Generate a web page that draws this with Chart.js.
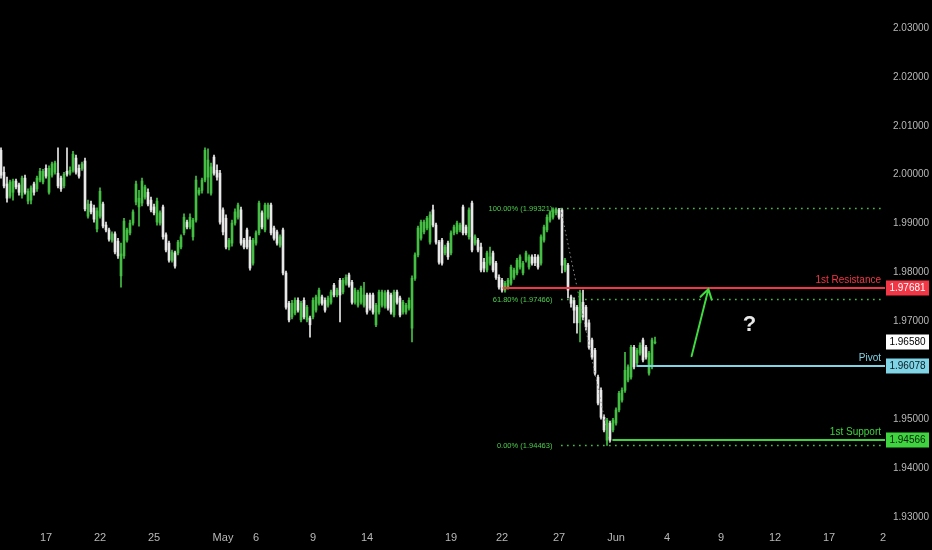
<!DOCTYPE html>
<html>
<head>
<meta charset="utf-8">
<script src="https://cdn.jsdelivr.net/npm/chart.js@4.4.1/dist/chart.umd.min.js"></script>
<style>
  html, body { margin: 0; padding: 0; background: #000; }
  #wrap { width: 932px; height: 550px; position: relative; }
</style>
</head>
<body>
<div id="wrap"><canvas id="chart"></canvas></div>
<script>
// candle data (oldest first)
const opens = [
  2.0050,2.0005,1.9981,1.9956,1.9964,1.9987,1.9979,1.9958,1.9993,1.9946,
  1.9948,1.9981,1.9971,1.9989,1.9985,2.0013,1.9964,1.9999,2.0005,2.0003,
  1.9993,1.9977,2.0007,2.0003,2.0009,2.0034,2.0013,2.0013,2.0028,1.9915,
  1.9940,1.9932,1.9889,1.9915,1.9940,1.9897,1.9887,1.9866,1.9879,1.9864,
  1.9793,1.9834,1.9866,1.9881,1.9901,1.9944,1.9934,1.9942,1.9954,1.9964,
  1.9948,1.9934,1.9903,1.9901,1.9934,1.9877,1.9860,1.9825,1.9840,1.9840,
  1.9852,1.9881,1.9903,1.9893,1.9873,1.9907,1.9962,1.9968,1.9989,1.9995,
  1.9962,2.0036,2.0009,2.0003,1.9928,1.9911,1.9852,1.9860,1.9901,1.9913,
  1.9928,1.9866,1.9887,1.9866,1.9819,1.9860,1.9881,1.9922,1.9887,1.9913,
  1.9938,1.9891,1.9883,1.9856,1.9887,1.9799,1.9737,1.9709,1.9717,1.9743,
  1.9703,1.9743,1.9703,1.9707,1.9709,1.9723,1.9737,1.9750,1.9743,1.9733,
  1.9739,1.9774,1.9754,1.9784,1.9760,1.9778,1.9795,1.9780,1.9739,1.9733,
  1.9739,1.9733,1.9754,1.9754,1.9754,1.9693,1.9719,1.9733,1.9731,1.9760,
  1.9754,1.9713,1.9760,1.9748,1.9719,1.9719,1.9727,1.9686,1.9788,1.9836,
  1.9870,1.9883,1.9891,1.9862,1.9928,1.9897,1.9862,1.9866,1.9840,1.9860,
  1.9840,1.9881,1.9883,1.9887,1.9934,1.9893,1.9873,1.9942,1.9860,1.9866,
  1.9852,1.9821,1.9805,1.9819,1.9840,1.9819,1.9790,1.9784,1.9764,1.9770,
  1.9778,1.9790,1.9799,1.9811,1.9799,1.9825,1.9811,1.9832,1.9831,1.9832,
  1.9819,1.9866,1.9887,1.9907,1.9913,1.9922,1.9928,1.9928,1.9805,1.9815,
  1.9750,1.9743,1.9729,1.9697,1.9739,1.9729,1.9697,1.9662,1.9641,1.9586,
  1.9559,1.9504,1.9457,1.9492,1.9478,1.9492,1.9519,1.9539,1.9559,1.9580,
  1.9586,1.9647,1.9615,1.9635,1.9662,1.9647,1.9594,1.9607,1.9656
];
const highs = [
  2.0055,2.0016,1.9995,1.9989,1.9991,1.9991,1.9983,1.9997,1.9999,1.9971,
  1.9977,1.9985,1.9997,2.0013,2.0011,2.0020,2.0018,2.0026,2.0028,2.0055,
  1.9997,2.0005,2.0055,2.0016,2.0048,2.0040,2.0020,2.0026,2.0034,1.9948,
  1.9946,1.9938,1.9932,1.9973,1.9944,1.9903,1.9891,1.9883,1.9883,1.9870,
  1.9860,1.9911,1.9891,1.9907,1.9928,1.9987,1.9968,1.9993,1.9979,1.9971,
  1.9954,1.9940,1.9952,1.9926,1.9938,1.9881,1.9864,1.9846,1.9844,1.9866,
  1.9877,1.9920,1.9907,1.9920,1.9911,1.9997,1.9973,1.9993,2.0055,2.0053,
  2.0024,2.0040,2.0020,2.0009,1.9932,1.9918,1.9870,1.9907,1.9930,1.9942,
  1.9934,1.9870,1.9891,1.9873,1.9870,1.9885,1.9946,1.9926,1.9942,1.9942,
  1.9942,1.9895,1.9887,1.9877,1.9891,1.9803,1.9741,1.9743,1.9748,1.9748,
  1.9741,1.9748,1.9733,1.9711,1.9748,1.9754,1.9768,1.9754,1.9748,1.9752,
  1.9764,1.9778,1.9768,1.9788,1.9788,1.9795,1.9799,1.9784,1.9768,1.9764,
  1.9772,1.9780,1.9758,1.9758,1.9758,1.9737,1.9764,1.9764,1.9763,1.9764,
  1.9758,1.9764,1.9764,1.9752,1.9743,1.9737,1.9748,1.9793,1.9840,1.9895,
  1.9907,1.9907,1.9915,1.9924,1.9938,1.9901,1.9866,1.9870,1.9856,1.9864,
  1.9885,1.9897,1.9905,1.9901,1.9938,1.9897,1.9932,1.9946,1.9877,1.9870,
  1.9860,1.9829,1.9844,1.9852,1.9844,1.9823,1.9795,1.9788,1.9782,1.9788,
  1.9815,1.9809,1.9829,1.9836,1.9823,1.9844,1.9836,1.9836,1.9837,1.9836,
  1.9877,1.9897,1.9918,1.9926,1.9932,1.99321,1.9931,1.9931,1.9829,1.9819,
  1.9754,1.9748,1.9733,1.9764,1.9764,1.9733,1.9703,1.9666,1.9645,1.9590,
  1.9564,1.9509,1.9502,1.9496,1.9502,1.9523,1.9557,1.9564,1.9637,1.9611,
  1.9651,1.9651,1.9645,1.9656,1.9666,1.9651,1.9639,1.9666,1.9668
];
const lows = [
  1.9993,1.9973,1.9944,1.9952,1.9948,1.9971,1.9958,1.9952,1.9960,1.9940,
  1.9940,1.9958,1.9966,1.9985,1.9981,1.9993,1.9960,1.9995,2.0001,1.9973,
  1.9966,1.9973,1.9997,1.9999,2.0005,2.0001,1.9993,2.0009,1.9926,1.9911,
  1.9920,1.9903,1.9883,1.9911,1.9891,1.9883,1.9864,1.9862,1.9838,1.9829,
  1.9770,1.9829,1.9862,1.9877,1.9897,1.9938,1.9895,1.9936,1.9950,1.9936,
  1.9924,1.9918,1.9897,1.9897,1.9868,1.9842,1.9821,1.9821,1.9809,1.9836,
  1.9848,1.9877,1.9889,1.9889,1.9866,1.9903,1.9958,1.9962,1.9985,1.9962,
  1.9958,1.9999,1.9989,1.9899,1.9877,1.9848,1.9846,1.9854,1.9897,1.9909,
  1.9856,1.9848,1.9848,1.9805,1.9815,1.9856,1.9877,1.9889,1.9883,1.9909,
  1.9877,1.9866,1.9856,1.9852,1.9795,1.9725,1.9699,1.9705,1.9713,1.9719,
  1.9699,1.9705,1.9699,1.9668,1.9705,1.9719,1.9733,1.9733,1.9719,1.9729,
  1.9735,1.9750,1.9750,1.9699,1.9756,1.9774,1.9770,1.9735,1.9735,1.9729,
  1.9735,1.9729,1.9715,1.9723,1.9715,1.9689,1.9715,1.9729,1.9727,1.9723,
  1.9715,1.9709,1.9735,1.9709,1.9715,1.9715,1.9723,1.9658,1.9784,1.9832,
  1.9866,1.9879,1.9887,1.9858,1.9893,1.9858,1.9817,1.9815,1.9836,1.9827,
  1.9836,1.9877,1.9879,1.9883,1.9877,1.9877,1.9868,1.9842,1.9856,1.9842,
  1.9801,1.9801,1.9801,1.9815,1.9801,1.9786,1.9766,1.9760,1.9760,1.9766,
  1.9774,1.9786,1.9795,1.9807,1.9795,1.9821,1.9807,1.9815,1.9814,1.9807,
  1.9815,1.9862,1.9883,1.9903,1.9909,1.9918,1.9909,1.9799,1.9801,1.9748,
  1.9729,1.9697,1.9676,1.9658,1.9703,1.9682,1.9643,1.9623,1.9590,1.9529,
  1.9500,1.9474,1.94463,1.9453,1.9474,1.9488,1.9515,1.9535,1.9555,1.9576,
  1.9582,1.9603,1.9611,1.9631,1.9617,1.9623,1.9590,1.9603,1.9654
];
const closes = [
  1.9999,1.9977,1.9952,1.9985,1.9987,1.9975,1.9964,1.9993,1.9964,1.9966,
  1.9973,1.9964,1.9993,2.0007,2.0007,1.9997,2.0013,2.0022,2.0024,1.9977,
  1.9971,2.0001,2.0001,2.0009,2.0042,2.0005,1.9997,2.0022,1.9930,1.9940,
  1.9924,1.9909,1.9926,1.9966,1.9895,1.9887,1.9868,1.9879,1.9842,1.9834,
  1.9838,1.9905,1.9887,1.9901,1.9924,1.9981,1.9952,1.9987,1.9975,1.9940,
  1.9928,1.9922,1.9946,1.9922,1.9873,1.9846,1.9825,1.9842,1.9813,1.9862,
  1.9873,1.9913,1.9893,1.9913,1.9907,1.9989,1.9968,1.9989,2.0050,2.0030,
  2.0016,2.0003,1.9995,1.9903,1.9883,1.9852,1.9866,1.9901,1.9924,1.9938,
  1.9860,1.9852,1.9852,1.9809,1.9866,1.9881,1.9942,1.9893,1.9938,1.9938,
  1.9881,1.9870,1.9860,1.9873,1.9799,1.9729,1.9703,1.9737,1.9743,1.9723,
  1.9737,1.9709,1.9729,1.9693,1.9743,1.9750,1.9764,1.9737,1.9723,1.9748,
  1.9760,1.9754,1.9764,1.9754,1.9784,1.9790,1.9774,1.9739,1.9764,1.9760,
  1.9768,1.9754,1.9719,1.9727,1.9719,1.9733,1.9760,1.9760,1.9758,1.9727,
  1.9719,1.9760,1.9739,1.9713,1.9739,1.9733,1.9743,1.9788,1.9836,1.9891,
  1.9903,1.9903,1.9911,1.9918,1.9897,1.9862,1.9821,1.9819,1.9852,1.9832,
  1.9881,1.9893,1.9901,1.9897,1.9881,1.9881,1.9928,1.9846,1.9873,1.9846,
  1.9805,1.9809,1.9840,1.9832,1.9805,1.9790,1.9770,1.9764,1.9778,1.9784,
  1.9811,1.9805,1.9825,1.9832,1.9819,1.9840,1.9832,1.9819,1.9820,1.9811,
  1.9873,1.9893,1.9913,1.9922,1.9928,1.9930,1.9913,1.9815,1.9825,1.9764,
  1.9737,1.9723,1.9697,1.9758,1.9709,1.9689,1.9647,1.9627,1.9594,1.9533,
  1.9504,1.9478,1.9498,1.9457,1.9498,1.9519,1.9553,1.9559,1.9600,1.9607,
  1.9647,1.9607,1.9641,1.9651,1.9621,1.9627,1.9635,1.9662,1.9658
];

// time axis labels (candle index -> text)
const tickPos  = [15, 33, 51, 74, 85, 104, 122, 150, 167, 186, 205, 222, 240, 258, 276, 294];
const tickText = ['17', '22', '25', 'May', '6', '9', '14', '19', '22', '27', 'Jun', '4', '9', '12', '17', '2'];

// price axis labels
const yTicks = [1.93, 1.94, 1.95, 1.96, 1.97, 1.98, 1.99, 2.00, 2.01, 2.02, 2.03];

// drawn levels
const resistance = 1.97681;
const pivot = 1.96078;
const support = 1.94566;
const lastPrice = 1.96580;
const fibLevels = [1.99321, 1.97466, 1.94463];
const fibNames = ['100.00%', '61.80%', '0.00%'];

const FONT = '"Liberation Sans", Arial, sans-serif';
const UP = '#44bf44';
const DOWN = '#e8e8e8';
const FIB = '#4ccf4c';
const AXIS_TEXT = '#b8b8b8';

const candleColor = closes.map((c, i) => c >= opens[i] ? UP : DOWN);
const bodies = closes.map((c, i) => ({ x: i, y: [opens[i], c] }));
const wicks = closes.map((c, i) => ({ x: i, y: [lows[i], highs[i]] }));

function hLevel(ctx, x, y, area, value, fromIdx, color, label) {
  const py = Math.round(y.getPixelForValue(value));
  ctx.strokeStyle = color;
  ctx.lineWidth = 2;
  ctx.beginPath();
  ctx.moveTo(x.getPixelForValue(fromIdx), py);
  ctx.lineTo(area.right, py);
  ctx.stroke();
  ctx.fillStyle = color;
  ctx.font = '10px ' + FONT;
  ctx.textAlign = 'right';
  ctx.textBaseline = 'alphabetic';
  ctx.fillText(label, area.right - 4, py - 5);
}

function axisBox(ctx, y, area, value, bg, fg) {
  const py = Math.round(y.getPixelForValue(value));
  ctx.fillStyle = bg;
  ctx.fillRect(area.right + 1, py - 7.5, 43, 15);
  ctx.fillStyle = fg;
  ctx.font = '10px ' + FONT;
  ctx.textAlign = 'center';
  ctx.textBaseline = 'middle';
  ctx.fillText(value.toFixed(5), area.right + 22.5, py + 0.5);
}

// chart.js pads axes for their end labels; this chart keeps the plot edge to edge
function noPadding(s) {
  s.paddingTop = 0;
  s.paddingBottom = 0;
  s.paddingLeft = 0;
  s.paddingRight = 0;
}

const overlays = {
  id: 'overlays',
  afterDatasetsDraw(chart) {
    const { ctx, chartArea: area, scales: { x, y } } = chart;
    ctx.save();

    // fib retracement
    ctx.lineWidth = 1.5;
    ctx.strokeStyle = FIB;
    ctx.setLineDash([1.5, 4.5]);
    fibLevels.forEach((v, i) => {
      const py = Math.round(y.getPixelForValue(v)) + 0.5;
      ctx.beginPath();
      ctx.moveTo(x.getPixelForValue(186.7), py);
      ctx.lineTo(area.right, py);
      ctx.stroke();
      ctx.fillStyle = FIB;
      ctx.font = '7.5px ' + FONT;
      ctx.textAlign = 'right';
      ctx.textBaseline = 'middle';
      ctx.fillText(fibNames[i] + ' (' + v.toFixed(5) + ')', x.getPixelForValue(183.8), py);
    });
    ctx.strokeStyle = '#8a8a8a';
    ctx.lineWidth = 1;
    ctx.setLineDash([1.5, 3]);
    ctx.beginPath();
    ctx.moveTo(x.getPixelForValue(186.5), y.getPixelForValue(fibLevels[0]));
    ctx.lineTo(x.getPixelForValue(203), y.getPixelForValue(fibLevels[2]));
    ctx.stroke();
    ctx.setLineDash([]);

    hLevel(ctx, x, y, area, resistance, 167.2, '#f23645', '1st Resistance');
    hLevel(ctx, x, y, area, pivot, 211.8, '#7fd4e6', 'Pivot');
    hLevel(ctx, x, y, area, support, 203.8, '#3fd43f', '1st Support');

    // arrow
    const sx = x.getPixelForValue(230.2), sy = y.getPixelForValue(1.9629);
    const tx = x.getPixelForValue(235.8), ty = y.getPixelForValue(1.9766);
    const ang = Math.atan2(ty - sy, tx - sx);
    ctx.strokeStyle = '#3fdc3f';
    ctx.lineWidth = 2;
    ctx.lineCap = 'round';
    ctx.beginPath();
    ctx.moveTo(sx, sy);
    ctx.lineTo(tx, ty);
    ctx.moveTo(tx - 11 * Math.cos(ang - 0.55), ty - 11 * Math.sin(ang - 0.55));
    ctx.lineTo(tx, ty);
    ctx.lineTo(tx - 11 * Math.cos(ang + 0.55), ty - 11 * Math.sin(ang + 0.55));
    ctx.stroke();

    ctx.fillStyle = '#e8e8e8';
    ctx.font = 'bold 22px ' + FONT;
    ctx.textAlign = 'center';
    ctx.textBaseline = 'middle';
    ctx.fillText('?', x.getPixelForValue(249.5), y.getPixelForValue(1.9692));
    ctx.restore();
  },
  afterDraw(chart) {
    const { ctx, chartArea: area, scales: { y } } = chart;
    ctx.save();
    axisBox(ctx, y, area, resistance, '#f23645', '#ffffff');
    axisBox(ctx, y, area, lastPrice, '#ffffff', '#000000');
    axisBox(ctx, y, area, pivot, '#7fd4e6', '#0b1a1f');
    axisBox(ctx, y, area, support, '#3fd43f', '#062006');
    ctx.restore();
  }
};

new Chart(document.getElementById('chart'), {
  type: 'bar',
  data: {
    datasets: [
      {
        data: bodies,
        backgroundColor: candleColor,
        barThickness: 2,
        minBarLength: 1,
        grouped: false,
        order: 0
      },
      {
        data: wicks,
        backgroundColor: candleColor,
        barThickness: 1,
        grouped: false,
        order: 1
      }
    ]
  },
  options: {
    responsive: true,
    maintainAspectRatio: false,
    animation: false,
    events: [],
    layout: { padding: 0 },
    plugins: { legend: { display: false }, tooltip: { enabled: false } },
    scales: {
      x: {
        type: 'linear',
        offset: false,
        min: -1 / 3,
        max: 294 + 2 / 3,
        grid: { display: false, drawTicks: false, offset: false },
        border: { display: false },
        afterBuildTicks: s => { s.ticks = tickPos.map(v => ({ value: v })); },
        afterFit: s => { s.height = 25; noPadding(s); },
        ticks: {
          autoSkip: false,
          maxRotation: 0,
          padding: 6,
          color: AXIS_TEXT,
          font: { size: 11, family: FONT },
          callback: (v, i) => tickText[i]
        }
      },
      y: {
        position: 'right',
        min: 1.928364,
        max: 2.035726,
        grid: { display: false, drawTicks: false },
        border: { display: false },
        afterBuildTicks: s => { s.ticks = yTicks.map(v => ({ value: v })); },
        afterFit: s => { s.width = 47; noPadding(s); },
        ticks: {
          padding: 8,
          color: AXIS_TEXT,
          font: { size: 10, family: FONT },
          callback: v => v.toFixed(5)
        }
      }
    }
  },
  plugins: [overlays]
});
</script>
</body>
</html>
